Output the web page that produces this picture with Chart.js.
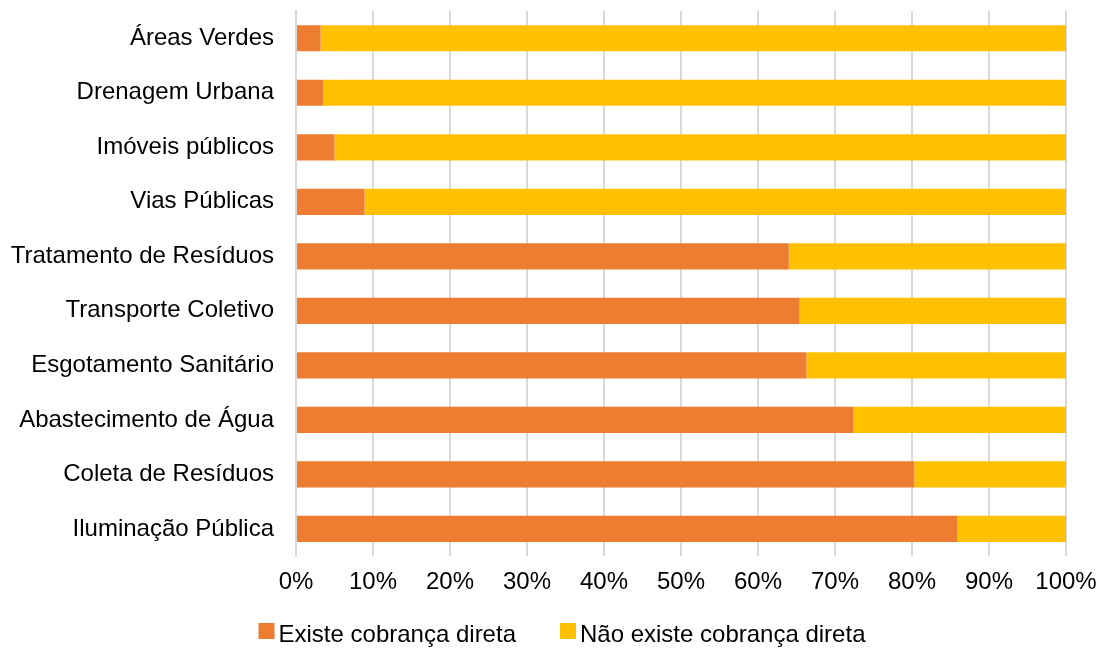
<!DOCTYPE html>
<html>
<head>
<meta charset="utf-8">
<script src="https://cdn.jsdelivr.net/npm/chart.js@4.4.1/dist/chart.umd.min.js"></script>
<style>
  html, body { margin: 0; padding: 0; background: #fff; }
  #wrap { width: 1098px; height: 648px; }
</style>
</head>
<body>
<div id="wrap"><canvas id="chart" width="1098" height="648"></canvas></div>
<script>
const categories = [
  "Áreas Verdes",
  "Drenagem Urbana",
  "Imóveis públicos",
  "Vias Públicas",
  "Tratamento de Resíduos",
  "Transporte Coletivo",
  "Esgotamento Sanitário",
  "Abastecimento de Água",
  "Coleta de Resíduos",
  "Iluminação Pública"
];
const existeCobranca = [3.2, 3.5, 5.0, 8.9, 64.0, 65.4, 66.3, 72.4, 80.3, 85.9];
const naoExisteCobranca = [96.8, 96.5, 95.0, 91.1, 36.0, 34.6, 33.7, 27.6, 19.7, 14.1];
const seriesNames = ["Existe cobrança direta", "Não existe cobrança direta"];

const FONT = "'Liberation Sans', Arial, sans-serif";
Chart.defaults.font.family = FONT;
Chart.defaults.font.size = 24;
Chart.defaults.color = "#000";

// legend drawn by hand so the box/text spacing matches the Excel look
const bottomLegend = {
  id: "bottomLegend",
  afterDraw(chart) {
    const ctx = chart.ctx;
    const sets = chart.data.datasets;
    const box = 16, gapText = 4, gapItem = 44;
    ctx.save();
    ctx.font = "24px " + FONT;
    ctx.textBaseline = "middle";
    const widths = sets.map(ds => box + gapText + ctx.measureText(ds.label).width);
    const total = widths.reduce((a, b) => a + b, 0) + gapItem * (sets.length - 1);
    let x = chart.width / 2 + 13 - total / 2;
    const y = 635;
    sets.forEach((ds, i) => {
      ctx.fillStyle = ds.backgroundColor;
      ctx.fillRect(x, y - 12, box, box);
      ctx.fillStyle = "#000";
      ctx.fillText(ds.label, x + box + gapText, y);
      x += widths[i] + gapItem;
    });
    ctx.restore();
  }
};

new Chart(document.getElementById("chart"), {
  type: "bar",
  data: {
    labels: categories,
    datasets: [
      {
        label: seriesNames[0],
        data: existeCobranca,
        backgroundColor: "#ED7D31",
        barPercentage: 0.48,
        categoryPercentage: 1
      },
      {
        label: seriesNames[1],
        data: naoExisteCobranca,
        backgroundColor: "#FFC000",
        barPercentage: 0.48,
        categoryPercentage: 1
      }
    ]
  },
  options: {
    indexAxis: "y",
    responsive: false,
    animation: false,
    layout: { padding: { top: 11, right: 32, left: 0, bottom: 39 } },
    scales: {
      x: {
        stacked: true,
        min: 0,
        max: 100,
        ticks: {
          stepSize: 10,
          padding: 12,
          maxRotation: 0,
          callback: v => v + "%"
        },
        grid: { color: "#d9d9d9", lineWidth: 2, drawTicks: false },
        border: { display: false },
        afterFit: scale => {
          scale.paddingLeft = 0;
          scale.paddingRight = 0;
        }
      },
      y: {
        stacked: true,
        ticks: { padding: 22 },
        grid: { display: false, drawTicks: false },
        border: { color: "#d9d9d9", width: 2 },
        afterFit: scale => {
          scale.width = 296;
          scale.paddingTop = 0;
          scale.paddingBottom = 0;
        }
      }
    },
    plugins: {
      legend: { display: false },
      tooltip: { enabled: false }
    }
  },
  plugins: [bottomLegend]
});
</script>
</body>
</html>
